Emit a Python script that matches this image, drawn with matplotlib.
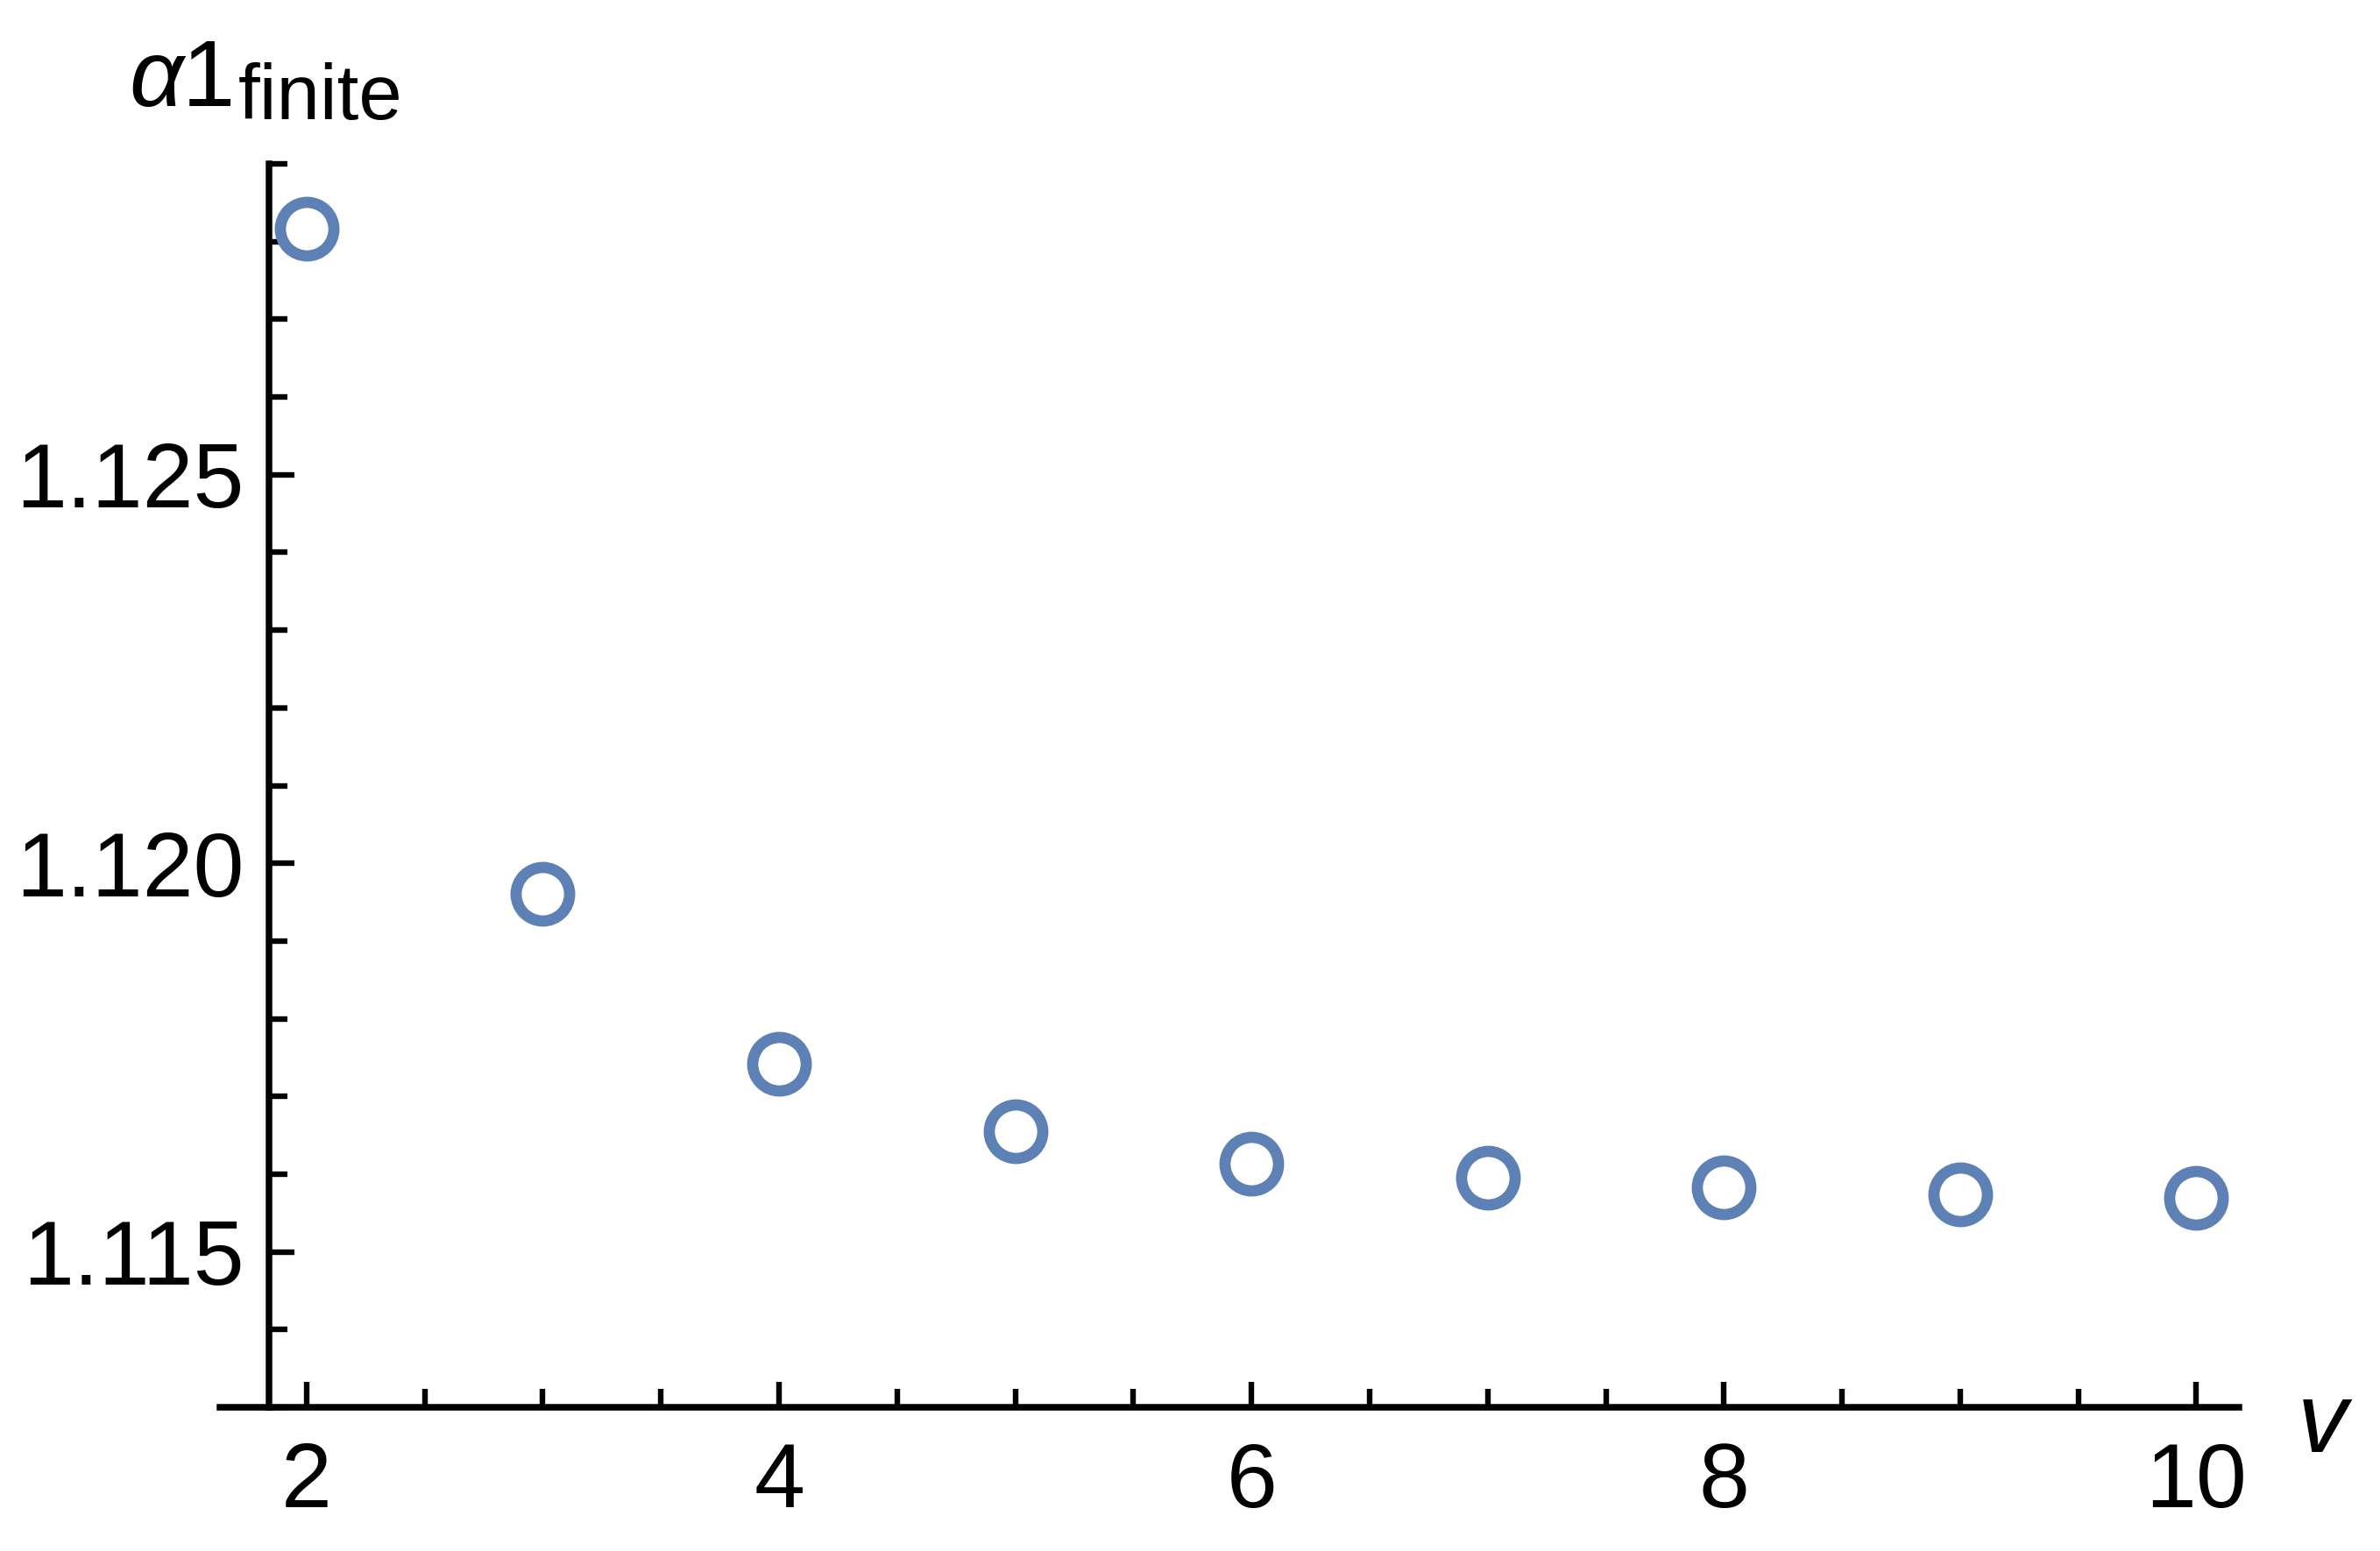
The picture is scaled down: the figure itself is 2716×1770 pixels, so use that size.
import matplotlib.pyplot as plt
from matplotlib.ticker import MultipleLocator, FormatStrFormatter

plt.rcParams['font.family'] = ['Liberation Sans', 'DejaVu Sans']

v = [2, 3, 4, 5, 6, 7, 8, 9, 10]
alpha1 = [1.12816, 1.11961, 1.11742, 1.11655, 1.11614, 1.11595, 1.11583, 1.11574, 1.11570]

W, H = 2716, 1770
fig = plt.figure(figsize=(W / 200, H / 200), dpi=200)
ax = fig.add_axes([251 / W, 1 - 1606 / H, (2555 - 251) / W, (1606 - 187) / H])

ax.plot(v, alpha1, linestyle='none', marker='o', markersize=22,
        markerfacecolor='none', markeredgecolor='#5E81B5', markeredgewidth=4.6,
        clip_on=False)

ax.set_xlim(1.633, 10.18)
ax.set_ylim(1.113, 1.129)

for s in ['top', 'right']:
    ax.spines[s].set_visible(False)
ax.spines['left'].set_position(('data', 1.839))
for s in ['left', 'bottom']:
    ax.spines[s].set_linewidth(2.7)

ax.set_xticks([2, 4, 6, 8, 10])
ax.xaxis.set_minor_locator(MultipleLocator(0.5))
ax.set_yticks([1.115, 1.120, 1.125])
ax.yaxis.set_minor_locator(MultipleLocator(0.001))
ax.yaxis.set_major_formatter(FormatStrFormatter('%.3f'))

ax.tick_params(which='both', direction='in', width=2.3, labelsize=37.5)
ax.tick_params(which='major', length=10.5)
ax.tick_params(which='minor', length=7.5)
ax.tick_params(axis='x', pad=14)
ax.tick_params(axis='y', pad=10)

# axis labels, Mathematica style at the ends of the axes
fig.text(147 / W, 1 - 121 / H, 'α', fontsize=39, style='italic', ha='left', va='baseline')
fig.text(208 / W, 1 - 121 / H, '1', fontsize=39, ha='left', va='baseline')
fig.text(272 / W, 1 - 136 / H, 'finite', fontsize=32, ha='left', va='baseline')
fig.text(2650 / W, 1 - 1628 / H, 'v', fontsize=41, style='italic', ha='center', va='center')

fig.savefig('out.png', dpi=200)
